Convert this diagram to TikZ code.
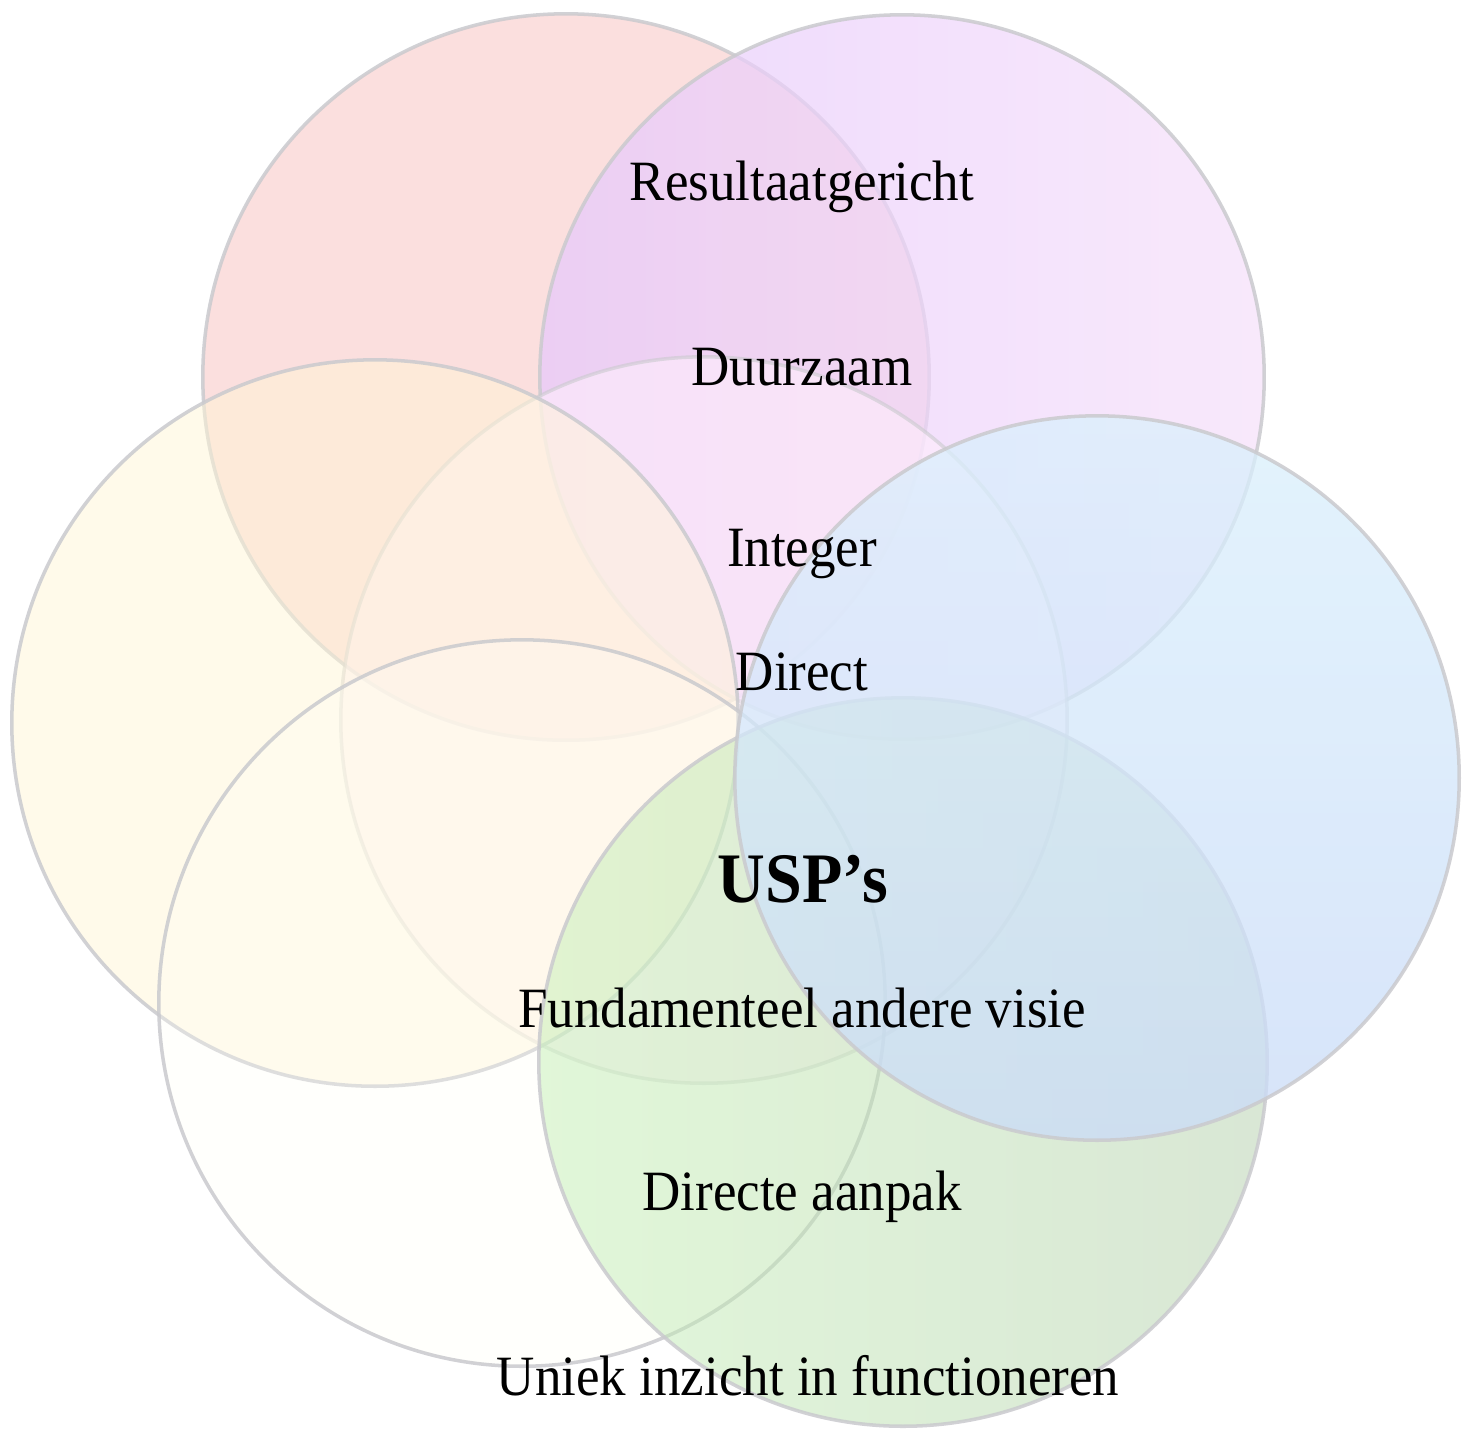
\documentclass[tikz,border=0pt]{standalone}
\usepackage{fontspec}
\setmainfont[FakeStretch=0.93]{Liberation Serif}
\usepackage{tikz}
\usetikzlibrary{calc}

\definecolor{rood}{RGB}{249,192,190}
\definecolor{paarsL}{RGB}{230,200,252}
\definecolor{paarsR}{RGB}{246,224,250}
\definecolor{roze}{RGB}{255,238,253}
\definecolor{geel}{RGB}{255,246,214}
\definecolor{wit}{RGB}{255,255,246}
\definecolor{groenL}{RGB}{196,240,182}
\definecolor{groenR}{RGB}{180,208,172}
\definecolor{blauwT}{RGB}{218,240,252}
\definecolor{blauwB}{RGB}{202,219,248}
\definecolor{rand}{RGB}{202,202,206}

\begin{document}
\begin{tikzpicture}[x=0.01cm, y=-0.01cm,
    bol/.style={draw=rand, line width=1pt, fill opacity=0.5, draw opacity=0.85},
    lbl/.style={anchor=base, inner sep=0pt, font=\fontsize{16.2}{19}\selectfont}]
    \useasboundingbox (0,0) rectangle (1471,1432);
    \fill[white] (0,0) rectangle (1471,1432);
    \coordinate (R) at (566,377);
    \coordinate (P) at (902,377);
    \coordinate (M) at (704,720);
    \coordinate (Y) at (375,723);
    \coordinate (W) at (522,1003);
    \coordinate (G) at (903,1062);
    \coordinate (B) at (1097,778);
    % cirkels
    \draw[bol, fill=rood] (R) circle[radius=3.63cm];
    \draw[bol, left color=paarsL, right color=paarsR, fill opacity=0.7] (P) circle[radius=3.62cm];
    \draw[bol, fill=roze, fill opacity=0.6, draw opacity=0.6] (M) circle[radius=3.63cm];
    \draw[bol, fill=geel] (Y) circle[radius=3.63cm];
    \draw[bol, fill=wit, fill opacity=0.3] (W) circle[radius=3.63cm];
    \draw[bol, left color=groenL, right color=groenR] (G) circle[radius=3.64cm];
    \draw[bol, top color=blauwT, bottom color=blauwB, fill opacity=0.75] (B) circle[radius=3.62cm];
    % teksten
    \node[lbl] (resultaat) at (802,200) {Resultaatgericht};
    \node[lbl] (duurzaam) at (802,385) {Duurzaam};
    \node[lbl] (integer) at (802,566) {Integer};
    \node[lbl] (direct) at (802,690) {Direct};
    \node[lbl, font=\fontsize{20.2}{24}\selectfont\bfseries] (usp) at (803,902) {USP’s};
    \node[lbl] (visie) at (802,1027) {Fundamenteel andere visie};
    \node[lbl] (aanpak) at (802,1210) {Directe aanpak};
    \node[lbl] (inzicht) at (808,1395) {Uniek inzicht in functioneren};
\end{tikzpicture}
\end{document}
